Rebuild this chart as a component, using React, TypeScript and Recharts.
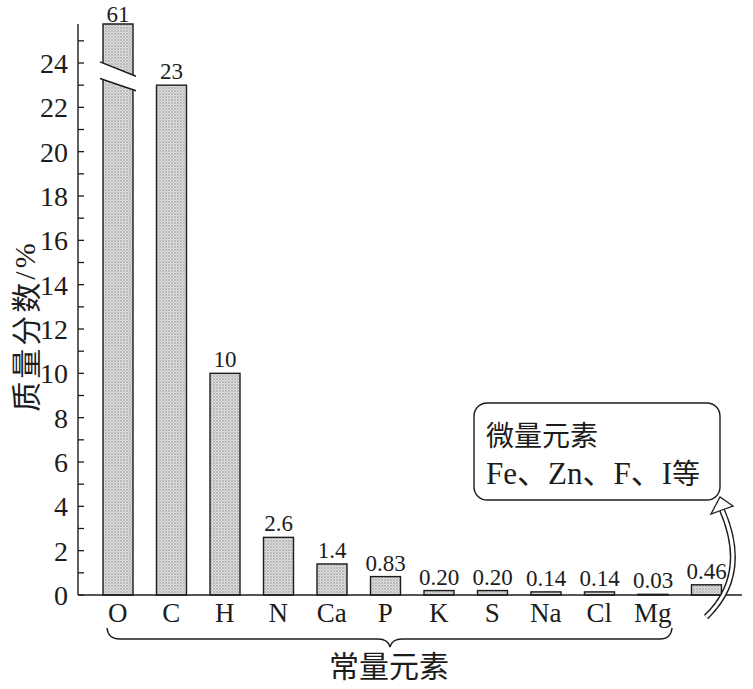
import React from 'react';
import { BarChart, Bar, XAxis, YAxis, LabelList } from 'recharts';

const categories = ['O', 'C', 'H', 'N', 'Ca', 'P', 'K', 'S', 'Na', 'Cl', 'Mg', 'trace'];
const categoryLabels = ['O', 'C', 'H', 'N', 'Ca', 'P', 'K', 'S', 'Na', 'Cl', 'Mg', ''];
const values = [61, 23, 10, 2.6, 1.4, 0.83, 0.2, 0.2, 0.14, 0.14, 0.03, 0.46];
const valueLabels = ['61', '23', '10', '2.6', '1.4', '0.83', '0.20', '0.20', '0.14', '0.14', '0.03', '0.46'];
const yTicks = [0, 1, 2, 3, 4, 5, 6, 7, 8, 9, 10, 11, 12, 13, 14, 15, 16, 17, 18, 19, 20, 21, 22, 23, 24, 25];
const AXIS_MAX = 25.76;
// axis-break marks drawn on the truncated bar (in data units: upper-left, upper-right, lower-left, lower-right)
const breakMarks = [24.05, 23.4, 23.3, 22.75];

const data = categories.map((c, i) => ({ name: c, value: values[i], label: valueLabels[i] }));

const SERIF = "'Liberation Serif', 'Times New Roman', 'Noto Sans CJK SC', serif";
const CJK = "'Noto Sans CJK SC', 'Liberation Serif', serif";
const INK = '#1c1c1c';

function BarShape(props: any) {
  const { x, y, width, height, payload } = props;
  if (payload.value <= AXIS_MAX) {
    return <rect x={x} y={y} width={width} height={Math.max(height, 0)} fill="url(#stipple)" stroke={INK} strokeWidth={1.4} />;
  }
  const base = y + height;
  const ppu = height / AXIS_MAX;
  const py = (v: number) => base - v * ppu;
  const ext = 3;
  const [ul, ur, ll, lr] = breakMarks;
  const u1 = py(ul), u2 = py(ur), l1 = py(ll), l2 = py(lr);
  const su = (u2 - u1) / (width + 2 * ext);
  const sl = (l2 - l1) / (width + 2 * ext);
  const uL = u1 + su * ext, uR = u2 - su * ext;
  const lL = l1 + sl * ext, lR = l2 - sl * ext;
  return (
    <g>
      <polygon points={`${x},${y} ${x + width},${y} ${x + width},${uR} ${x},${uL}`} fill="url(#stipple)" />
      <polygon points={`${x},${lL} ${x + width},${lR} ${x + width},${base} ${x},${base}`} fill="url(#stipple)" />
      <polyline points={`${x},${uL} ${x},${y} ${x + width},${y} ${x + width},${uR}`} fill="none" stroke={INK} strokeWidth={1.4} />
      <polyline points={`${x},${lL} ${x},${base} ${x + width},${base} ${x + width},${lR}`} fill="none" stroke={INK} strokeWidth={1.4} />
      <line x1={x - ext} y1={u1} x2={x + width + ext} y2={u2} stroke={INK} strokeWidth={1.5} />
      <line x1={x - ext} y1={l1} x2={x + width + ext} y2={l2} stroke={INK} strokeWidth={1.5} />
    </g>
  );
}

function ValueLabel(props: any) {
  const { x, y, width, value } = props;
  const gap = value === valueLabels[0] ? 2 : 6;
  return (
    <text x={x + width / 2} y={y - gap} textAnchor="middle" fontSize={23} style={{ fontFamily: SERIF }} fill={INK}>
      {value}
    </text>
  );
}

function YTick(props: any) {
  const { x, y, payload } = props;
  const v = payload.value;
  return (
    <g>
      <line x1={x} y1={y} x2={x + 6} y2={y} stroke={INK} strokeWidth={1.3} />
      {v % 2 === 0 ? (
        <text x={x - 10} y={y + 10} textAnchor="end" fontSize={28} style={{ fontFamily: SERIF }} fill={INK}>
          {v}
        </text>
      ) : null}
    </g>
  );
}

function XTick(props: any) {
  const { x, y, payload } = props;
  const idx = categories.indexOf(payload.value);
  return (
    <text x={x} y={y + 27} textAnchor="middle" fontSize={27} style={{ fontFamily: SERIF }} fill={INK}>
      {categoryLabels[idx]}
    </text>
  );
}

export default function App() {
  return (
    <div style={{ position: 'absolute', left: 0, top: 0, width: 753, height: 689, background: '#fff' }}>
      <svg width={0} height={0} style={{ position: 'absolute' }}>
        <defs>
          <pattern id="stipple" width={3} height={3} patternUnits="userSpaceOnUse">
            <rect width={3} height={3} fill="#dedede" />
            <circle cx={1} cy={1} r={0.75} fill="#858585" />
            <circle cx={2.5} cy={2.5} r={0.45} fill="#a3a3a3" />
          </pattern>
        </defs>
      </svg>
      <BarChart width={753} height={689} data={data} margin={{ top: 24, right: 11, left: 0, bottom: 54 }} barSize={30}>
        <XAxis
          dataKey="name"
          height={40}
          padding={{ left: 13, right: 9 }}
          axisLine={{ stroke: INK, strokeWidth: 1.4 }}
          tickLine={false}
          tickSize={0}
          tickMargin={0}
          interval={0}
          tick={<XTick />}
        />
        <YAxis
          width={78}
          domain={[0, AXIS_MAX]}
          ticks={yTicks}
          interval={0}
          axisLine={{ stroke: INK, strokeWidth: 1.4 }}
          tickLine={false}
          tickSize={0}
          tickMargin={0}
          tick={<YTick />}
        />
        <Bar dataKey={(d: any) => Math.min(d.value, AXIS_MAX)} shape={<BarShape />} isAnimationActive={false}>
          <LabelList dataKey="label" content={<ValueLabel />} />
        </Bar>
      </BarChart>
      <svg width={753} height={689} style={{ position: 'absolute', left: 0, top: 0, pointerEvents: 'none' }}>
        {/* y-axis title */}
        <text x={24} y={326} transform="rotate(-90, 24, 326)" textAnchor="middle" dominantBaseline="central" fontSize={30} letterSpacing={3} style={{ fontFamily: CJK }} fill={INK}>
          质量分数<tspan style={{ fontFamily: SERIF }}>/%</tspan>
        </text>
        {/* brace under macro elements */}
        <path
          d="M107,628 Q108,639 120,639 L378,639 Q388,639 390,647 Q392,639 402,639 L660,639 Q671,639 672,628"
          fill="none"
          stroke={INK}
          strokeWidth={1.4}
        />
        <text x={389} y={677} textAnchor="middle" fontSize={30} style={{ fontFamily: CJK }} fill={INK}>
          常量元素
        </text>
        {/* trace-element callout */}
        <rect x={474} y={403} width={246} height={97} rx={13} ry={13} fill="#fff" stroke={INK} strokeWidth={1.4} />
        <text x={486} y={446} fontSize={28} style={{ fontFamily: CJK }} fill={INK}>
          微量元素
        </text>
        <text x={486} y={484} fontSize={31} style={{ fontFamily: SERIF }} fill={INK}>
          Fe、Zn、F、I<tspan style={{ fontFamily: CJK }} fontSize={28}>等</tspan>
        </text>
        {/* hollow curved arrow */}
        <path d="M706,617 Q750,575 722,510" fill="none" stroke={INK} strokeWidth={6} />
        <path d="M706,617 Q750,575 722,510" fill="none" stroke="#fff" strokeWidth={3.2} />
        <polygon points="720,497 711,514 722,510 733,506" fill="#fff" stroke={INK} strokeWidth={1.3} strokeLinejoin="miter" />
      </svg>
    </div>
  );
}
